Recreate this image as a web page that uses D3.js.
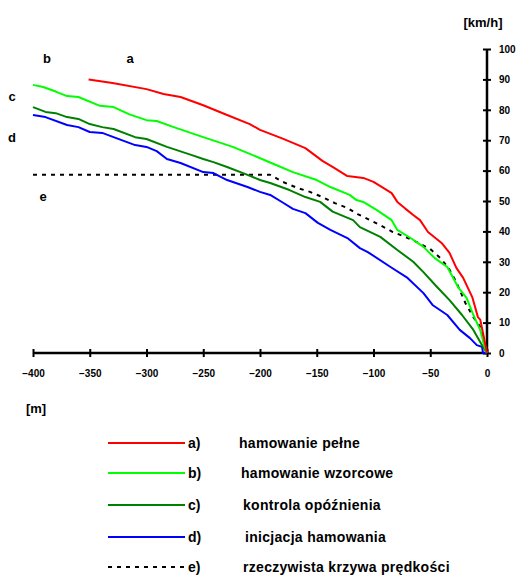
<!DOCTYPE html>
<html>
<head>
<meta charset="utf-8">
<script src="https://cdn.jsdelivr.net/npm/d3@7"></script>
<style>
  body { margin: 0; background: #fff; }
  svg { font-family: "Liberation Sans", Arial, sans-serif; font-weight: bold; }
</style>
</head>
<body>
<svg id="chart" width="516" height="576"></svg>
<script>
"use strict";

// [odległość m, prędkość km/h]
var fullBraking = [[-351,90],[-330,88.8],[-300,86.8],[-285,85.2],[-270,84.2],[-250,81.5],[-229,78.3],[-209,75.3],[-200,73.4],[-180,70.5],[-160,67.4],[-145,63.2],[-135,61],[-123,58.2],[-109,57.6],[-100,56.3],[-90,54],[-84,52.6],[-79,49.7],[-72,47.5],[-65,45.4],[-59,43.7],[-52,39.8],[-40,36.2],[-33,32.9],[-27,28],[-21,24.7],[-13,18.4],[-8,11.8],[-6,11],[-3.5,6.6],[0,0]]
var modelBraking = [[-400,88.2],[-391,87.5],[-380,86],[-370,84.5],[-360,84.2],[-341,81.3],[-329,80.9],[-315,78.5],[-300,76.6],[-291,76.3],[-276,74.3],[-250,71],[-224,67.8],[-209,65.5],[-190,62.5],[-171,59.5],[-150,56.9],[-138,54.6],[-121,52],[-115,50.3],[-109,49.7],[-97,47],[-84,43.7],[-79,40.5],[-66,37.5],[-56,34.9],[-46,31.2],[-35,28.3],[-25.5,21.7],[-18,18.1],[-12,12.5],[-6,7.6],[-2,2],[0,0]]
var delayControl = [[-400,80.9],[-389,79.3],[-380,78.9],[-370,77.6],[-360,77],[-350,75.3],[-339,74.3],[-329,73.7],[-310,71],[-300,70.4],[-282,67.8],[-260,65.1],[-250,63.8],[-241,62.8],[-229,61.2],[-211,58.6],[-200,56.9],[-191,55.9],[-174,53.6],[-160,51.3],[-147,49.7],[-136,46.5],[-118,43.7],[-112,41.4],[-94,38.2],[-79,33.9],[-65,30],[-56,26.6],[-44,21.7],[-33,17.4],[-22,12.5],[-12,7.6],[-3.5,2],[0,0]]
var brakeInit = [[-400,78.3],[-389,77.6],[-370,75],[-360,74.3],[-350,72.7],[-339,72.4],[-329,71],[-310,68.4],[-300,67.8],[-291,66.4],[-282,63.8],[-270,62.5],[-250,59.5],[-241,59.2],[-229,56.9],[-211,54.6],[-200,53],[-191,52],[-180,49.5],[-171,47.4],[-160,46],[-149,42.8],[-138,40.5],[-123,37.8],[-112,34.5],[-105,33.2],[-85,28.3],[-70,24.7],[-56,19.7],[-48,15.8],[-35,12.5],[-24,7.6],[-15,4.9],[-9,2.6],[-4.4,2],[-3.5,0],[0,0]]
var realCurve = [[-400,58.6],[-191,58.6],[-180,56.3],[-167,54.3],[-156,53],[-145,51.3],[-134,49.3],[-123,47.7],[-114,45.7],[-103,43.7],[-93,41.8],[-83,39.8],[-72,38.2],[-62,36.5],[-50,34.2],[-41,31.2],[-34,28],[-28,24],[-24,20.7],[-19,16.4],[-12,11.8],[-6,8.6],[-3.5,5.3],[-2,1.6],[0,0]]

var xTicks = [-400, -350, -300, -250, -200, -150, -100, -50, 0]
var yTicks = [0, 10, 20, 30, 40, 50, 60, 70, 80, 90, 100]

var seriesKeys = ["a)", "b)", "c)", "d)", "e)"]
var seriesNames = ["hamowanie pełne", "hamowanie wzorcowe", "kontrola opóźnienia", "inicjacja hamowania", "rzeczywista krzywa prędkości"]
var seriesColors = ["#ff0000", "#00ff00", "#008000", "#0000ff", "#000000"]

var svg = d3.select("#chart")
var x = d3.scaleLinear().domain([-400, 0]).range([33, 487])
var y = d3.scaleLinear().domain([0, 100]).range([353, 49])

/**
 * Dessine les deux axes croisés (ticks des deux côtés)
 */
function drawAxes() {
    var gx = svg.append("g")
        .attr("transform", "translate(0," + y(0) + ")")
        .call(d3.axisBottom(x).tickValues(xTicks).tickSize(4).tickPadding(13).tickFormat(d3.format("d")))
    gx.select(".domain").attr("stroke-width", 2.5)
    gx.selectAll(".tick line").attr("y1", -4).attr("y2", 4).attr("stroke-width", 2)
    gx.selectAll(".tick text").attr("font-size", 10).attr("font-weight", "bold")
        .attr("font-family", "Liberation Sans, Arial, sans-serif")

    var gy = svg.append("g")
        .attr("transform", "translate(" + x(0) + ",0)")
        .call(d3.axisRight(y).tickValues(yTicks).tickSize(4).tickPadding(8))
    gy.select(".domain").attr("stroke-width", 2.5)
    gy.selectAll(".tick line").attr("x1", -4).attr("x2", 4).attr("stroke-width", 2)
    gy.selectAll(".tick text").attr("font-size", 10).attr("font-weight", "bold")
        .attr("font-family", "Liberation Sans, Arial, sans-serif")
    gx.selectAll(".domain").attr("d", "M" + x(-400) + ",0H" + x(0))
    gy.selectAll(".domain").attr("d", "M0," + y(0) + "V" + y(100))
}

/**
 * Dessine une courbe de vitesse
 */
function drawCurve(data, color, dashed) {
    var line = d3.line().x(d => x(d[0])).y(d => y(d[1]))
    var p = svg.append("path")
        .datum(data)
        .attr("d", line)
        .attr("fill", "none")
        .attr("stroke", color)
        .attr("stroke-width", 2)
        .attr("stroke-linejoin", "round")
    if (dashed) p.attr("stroke-dasharray", "4,5")
    return p
}

drawAxes()
drawCurve(realCurve, seriesColors[4], true)
drawCurve(brakeInit, seriesColors[3])
drawCurve(delayControl, seriesColors[2])
drawCurve(modelBraking, seriesColors[1])
drawCurve(fullBraking, seriesColors[0])

// etykiety krzywych
var curveLabels = [["a", 130, 63], ["b", 47, 63], ["c", 12, 101], ["d", 12, 142], ["e", 43, 201]]
svg.selectAll(".clabel").data(curveLabels).enter().append("text")
    .attr("class", "clabel")
    .attr("x", d => d[1]).attr("y", d => d[2])
    .attr("text-anchor", "middle")
    .attr("font-size", 13)
    .text(d => d[0])

svg.append("text").attr("x", 483).attr("y", 27).attr("text-anchor", "middle")
    .attr("font-size", 13).text("[km/h]")
svg.append("text").attr("x", 36).attr("y", 413).attr("text-anchor", "middle")
    .attr("font-size", 13).text("[m]")

// legenda
var legendY = [443, 473, 505, 537, 567]
var legendTextX = [239, 241, 243, 245, 243]
var leg = svg.selectAll(".leg").data(seriesKeys).enter().append("g")
    .attr("class", "leg")
    .attr("transform", (d, i) => "translate(0," + legendY[i] + ")")
leg.append("line")
    .attr("x1", 108).attr("x2", 185)
    .attr("stroke", (d, i) => seriesColors[i])
    .attr("stroke-width", 2)
    .attr("stroke-dasharray", (d, i) => i === 4 ? "4,5" : null)
leg.append("text").attr("x", 188).attr("y", 5).attr("font-size", 14).text(d => d)
leg.append("text").attr("x", (d, i) => legendTextX[i]).attr("y", 5).attr("font-size", 14)
    .attr("letter-spacing", 0.3)
    .text((d, i) => seriesNames[i])
</script>
</body>
</html>
